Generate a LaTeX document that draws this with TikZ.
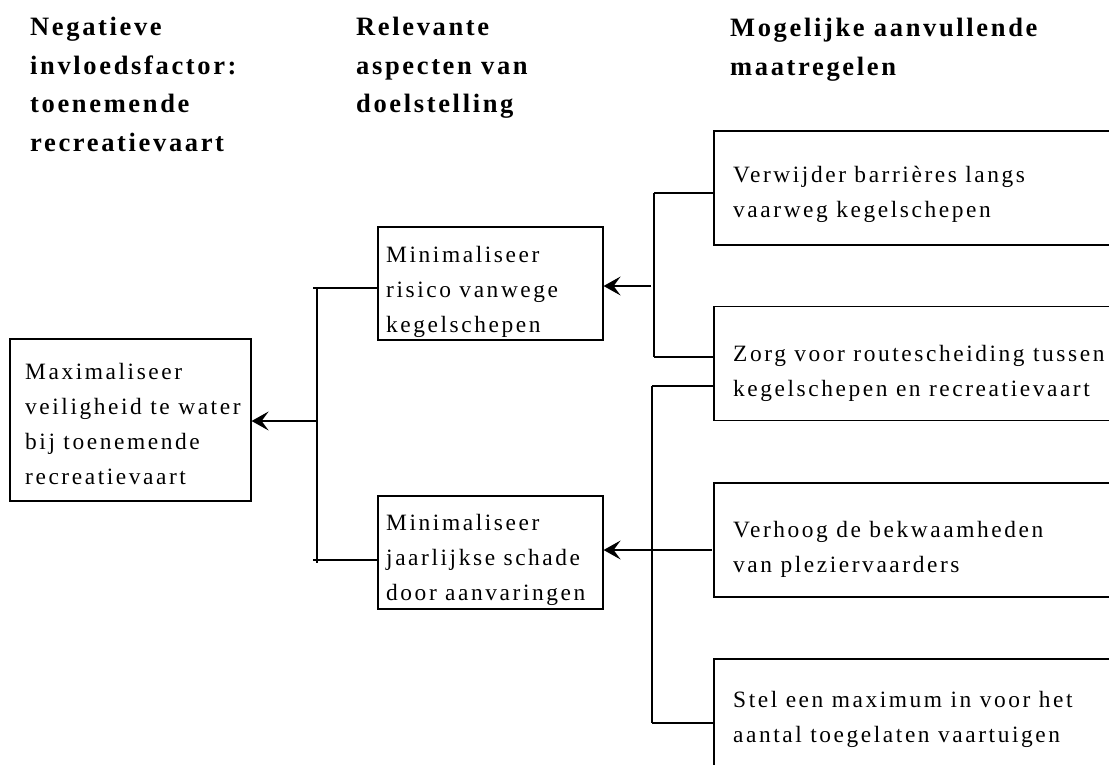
\documentclass[tikz,border=0pt]{standalone}
\usepackage{fontspec}
\setmainfont{Liberation Serif}
\newfontfamily\spatiefont[LetterSpace=11.0]{Liberation Serif}
\newfontfamily\kopfont[LetterSpace=10.0]{Liberation Serif}
\usetikzlibrary{arrows.meta}

\tikzset{
	kader/.style={draw, line width=1.2pt, inner sep=0pt},
	tekst/.style={anchor=north west, inner sep=0pt, align=left, font=\spatiefont\fontsize{23.4}{35}\selectfont},
	kop/.style={anchor=north west, inner sep=0pt, align=left, font=\kopfont\bfseries\fontsize{26.5}{38.5}\selectfont},
	lijn/.style={line width=1.2pt},
	pijl/.style={line width=1.2pt, -{Stealth[length=17pt,width=19pt,inset=7pt]}}
}

\begin{document}
\begin{tikzpicture}[x=1pt, y=-1pt]
				\useasboundingbox (0,0) rectangle (1109,765);
				\clip (0,0) rectangle (1109,765);
				
				\node[kop] (kop1) at (30,17) {Negatieve\\invloedsfactor:\\toenemende\\recreatievaart};
				\node[kop] (kop2) at (356,17) {Relevante\\aspecten van\\doelstelling};
				\node[kop] (kop3) at (730,18) {Mogelijke aanvullende\\maatregelen};
				
				\node[kader, minimum width=241pt, minimum height=162pt] (doel) at (130.5,420) {};
				\node[tekst] (doeltekst) at (25,363) {Maximaliseer\\veiligheid te water\\bij toenemende\\recreatievaart};
				
				\node[kader, minimum width=225pt, minimum height=113pt] (asp1) at (490.5,283.5) {};
				\node[tekst] (asp1tekst) at (386,246) {Minimaliseer\\risico vanwege\\kegelschepen};
				\node[kader, minimum width=225pt, minimum height=113pt] (asp2) at (490.5,552.5) {};
				\node[tekst] (asp2tekst) at (386,514) {Minimaliseer\\jaarlijkse schade\\door aanvaringen};
				
				\node[kader, minimum width=426pt, minimum height=114pt] (mr1) at (927,188) {};
				\node[tekst] (mr1tekst) at (733,166) {Verwijder barrières langs\\vaarweg kegelschepen};
				\node[kader, minimum width=426pt, minimum height=114pt] (mr2) at (927,363.5) {};
				\node[tekst] (mr2tekst) at (733,345) {Zorg voor routescheiding tussen\\kegelschepen en recreatievaart};
				\node[kader, minimum width=426pt, minimum height=114pt] (mr3) at (927,540) {};
				\node[tekst] (mr3tekst) at (733,521) {Verhoog de bekwaamheden\\van pleziervaarders};
				\node[kader, minimum width=426pt, minimum height=114pt] (mr4) at (927,716) {};
				\node[tekst] (mr4tekst) at (733,691) {Stel een maximum in voor het\\aantal toegelaten vaartuigen};
				
				\coordinate (s1) at (313,288);
				\coordinate (s2) at (313,560);
				\coordinate (s3) at (317,421);
				\draw[lijn] (317,288) -- (317,563);
				\draw[lijn] (s1) -- (s1 -| asp1.west);
				\draw[lijn] (s2) -- (s2 -| asp2.west);
				\draw[pijl] (s3) -- (s3 -| doel.east);
				
				\coordinate (t1) at (654,193);
				\coordinate (t2) at (654,357);
				\coordinate (t3) at (651,286);
				\draw[lijn] (t1) -- (t2);
				\draw[lijn] (t1) -- (t1 -| mr1.west);
				\draw[lijn] (t2) -- (t2 -| mr2.west);
				\draw[pijl] (t3) -- (t3 -| asp1.east);
				
				\coordinate (u1) at (652,386);
				\coordinate (u2) at (652,723);
				\coordinate (u3) at (712,550);
				\draw[lijn] (u1) -- (u2);
				\draw[lijn] (u1) -- (u1 -| mr2.west);
				\draw[lijn] (u2) -- (u2 -| mr4.west);
				\draw[pijl] (u3) -- (u3 -| asp2.east);
\end{tikzpicture}
\end{document}
